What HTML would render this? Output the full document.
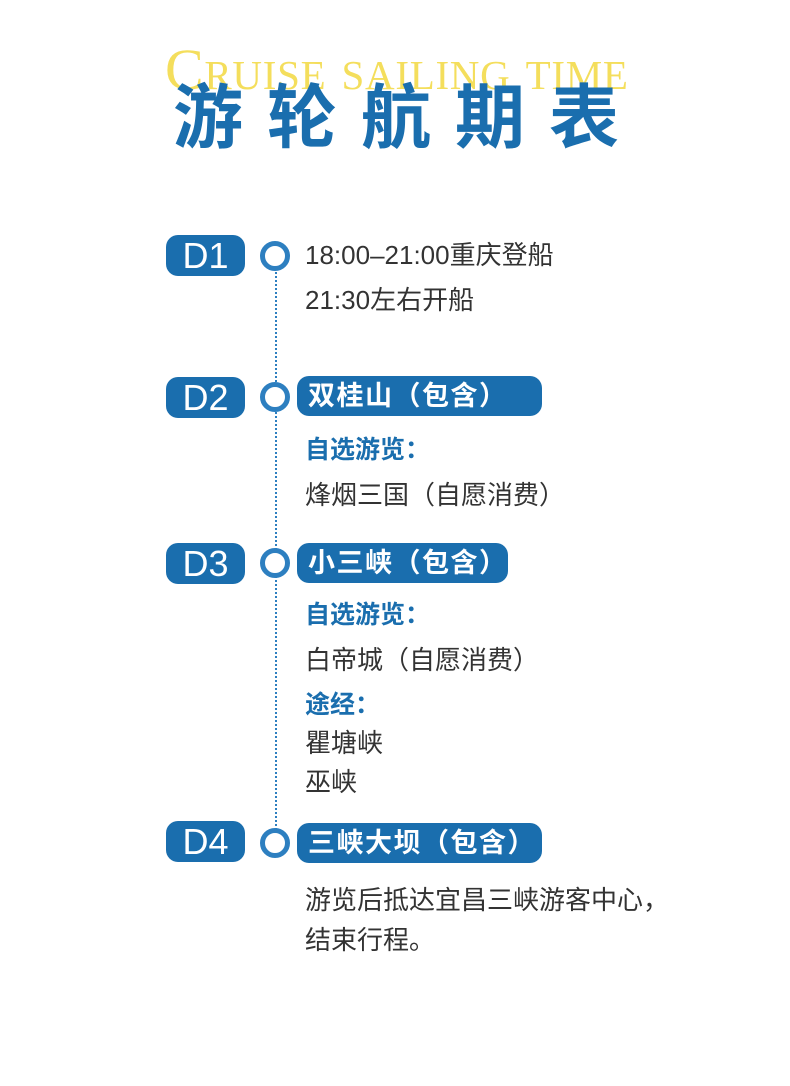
<!DOCTYPE html>
<html><head><meta charset="utf-8"><style>
body{margin:0;width:790px;height:1086px;background:#fff;position:relative;overflow:hidden;font-family:"Liberation Sans","Noto Sans CJK SC",sans-serif;}
.a{position:absolute;white-space:nowrap;}
.t{font-size:26px;color:#333;line-height:30px;left:305px;}
.b{font-size:25px;color:#1a6eae;line-height:30px;left:305px;font-weight:700;}
.badge{position:absolute;left:166px;width:79px;height:41px;border-radius:12px;background:#1a6eae;color:#fff;font-size:36px;line-height:41px;text-align:center;font-family:"Liberation Sans",sans-serif;font-weight:500;}
.dot{position:absolute;left:260px;width:20px;height:20px;border:5px solid #2d7fc0;border-radius:50%;background:#fff;}
.pill{position:absolute;left:297px;height:40px;border-radius:12px;background:#1a6eae;color:#fff;font-size:27px;line-height:40px;padding-left:11px;box-sizing:border-box;font-weight:700;letter-spacing:1.5px;}
</style></head><body>
<div class="a" style="left:165px;top:38px;font-family:'Liberation Serif',serif;font-size:58px;font-variant:small-caps;color:#f4de5c;letter-spacing:0.7px;line-height:64px;">Cruise sailing time</div>
<div class="a" style="left:173px;top:68px;font-family:'Noto Sans CJK SC',sans-serif;font-weight:700;font-size:70px;color:#1a6eae;letter-spacing:24px;line-height:90px;">游轮航期表</div>
<div style="position:absolute;left:275px;top:268px;height:570px;border-left:2px dotted #2d7fc0;"></div>
<div class="badge" style="top:235px;">D1</div>
<div class="dot" style="top:241px;"></div>
<div class="a t" style="top:240px;">18:00–21:00重庆登船</div>
<div class="a t" style="top:285px;">21:30左右开船</div>
<div class="badge" style="top:377px;">D2</div>
<div class="dot" style="top:382px;"></div>
<div class="pill" style="top:376px;width:245px;">双桂山（包含）</div>
<div class="a b" style="top:435px;">自选游览：</div>
<div class="a t" style="top:480px;">烽烟三国（自愿消费）</div>
<div class="badge" style="top:543px;">D3</div>
<div class="dot" style="top:548px;"></div>
<div class="pill" style="top:543px;width:211px;">小三峡（包含）</div>
<div class="a b" style="top:600px;">自选游览：</div>
<div class="a t" style="top:645px;">白帝城（自愿消费）</div>
<div class="a b" style="top:690px;">途经：</div>
<div class="a t" style="top:728px;">瞿塘峡</div>
<div class="a t" style="top:767px;">巫峡</div>
<div class="badge" style="top:821px;">D4</div>
<div class="dot" style="top:828px;"></div>
<div class="pill" style="top:823px;width:245px;">三峡大坝（包含）</div>
<div class="a t" style="top:885px;">游览后抵达宜昌三峡游客中心，</div>
<div class="a t" style="top:925px;">结束行程。</div>
</body></html>
